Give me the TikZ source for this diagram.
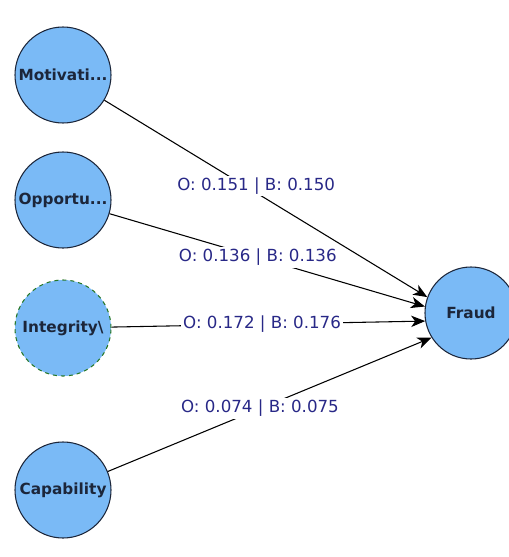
\documentclass[tikz,border=0pt]{standalone}
\usepackage{fontspec}
\setmainfont{DejaVu Sans}
\usepackage{xcolor}
\usetikzlibrary{arrows.meta}
\definecolor{nodeblue}{RGB}{122,186,246}
\definecolor{rim}{RGB}{28,38,58}
\definecolor{navy}{RGB}{40,40,135}
\definecolor{dashgreen}{RGB}{40,120,40}

\begin{document}
\begin{tikzpicture}[x=0.75pt, y=-0.75pt, line width=0.8pt,
    main/.style = {draw=rim, circle, fill=nodeblue, minimum size=72pt, inner sep=0pt,
                   text=rim, font=\bfseries\fontsize{11.5}{13}\selectfont},
    lbl/.style = {fill=white, inner sep=1.5pt, text=navy, font=\fontsize{12.5}{14}\selectfont},
    arr/.style = {-{Stealth[length=10.5pt, width=8.5pt, inset=3pt]}}]
    \useasboundingbox (0,0) rectangle (508,557);
    \node[main] (Mot) at (63,75) {Motivati...};
    \node[main] (Opp) at (63,200) {Opportu...};
    \node[main, draw=dashgreen, dashed] (Int) at (63,328) {Integrity\textbackslash};
    \node[main] (Cap) at (63,490) {Capability};
    \node[main, minimum size=69pt] (Fraud) at (471,313) {Fraud};
    \draw[arr] (Mot) -- node[lbl, pos=0.47, yshift=5pt] {O: 0.151 | B: 0.150} (Fraud.160);
    \draw[arr] (Opp) -- node[lbl, pos=0.47] {O: 0.136 | B: 0.136} (Fraud.172);
    \draw[arr] (Int) -- node[lbl, pos=0.48] {O: 0.172 | B: 0.176} (Fraud.190);
    \draw[arr] (Cap) -- node[lbl, pos=0.47] {O: 0.074 | B: 0.075} (Fraud.212);
\end{tikzpicture}
\end{document}
